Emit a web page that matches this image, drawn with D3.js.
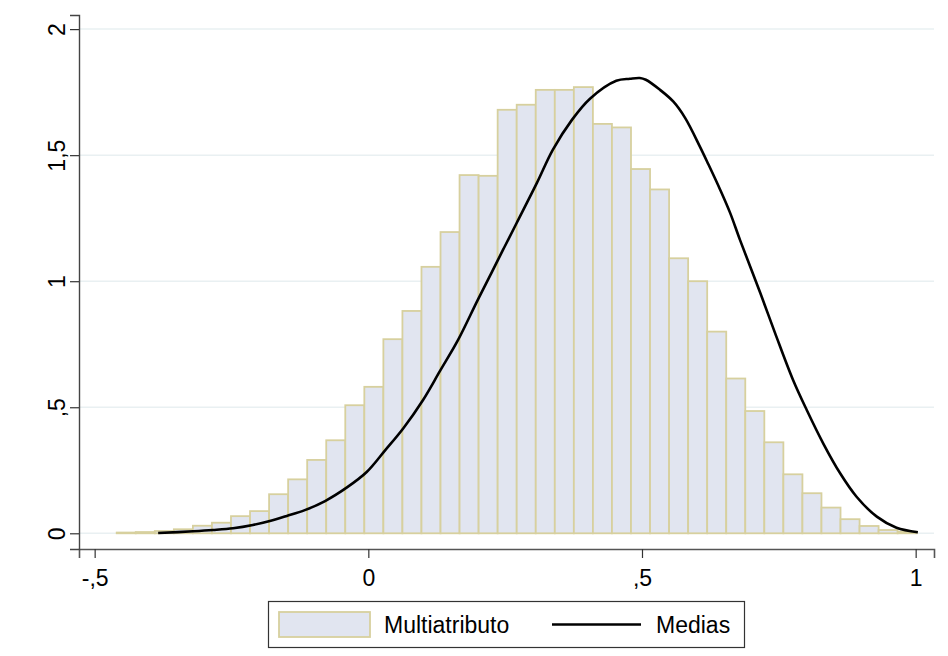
<!DOCTYPE html>
<html>
<head>
<meta charset="utf-8">
<script src="https://cdn.jsdelivr.net/npm/d3@7"></script>
<style>
    body { margin: 0; background: #fff; }
    text { font-family: "Liberation Sans", Arial, sans-serif; }
</style>
</head>
<body>
<script>
// histogram: 42 bins, lower edge of first bin and bin width
var binStart = -0.4597,
    binWidth = 0.0348;

// density of "Multiatributo" in each bin
var densities = [
    0.003, 0.005, 0.009, 0.016, 0.030, 0.042, 0.068, 0.088, 0.155, 0.214,
    0.291, 0.369, 0.508, 0.581, 0.770, 0.882, 1.057, 1.195, 1.421, 1.418,
    1.680, 1.700, 1.759, 1.759, 1.770, 1.624, 1.610, 1.445, 1.364, 1.091,
    1.000, 0.800, 0.614, 0.485, 0.361, 0.234, 0.159, 0.102, 0.056, 0.029,
    0.013, 0.006
];

// "Medias" density curve
var curveX = [-0.384, -0.320, -0.284, -0.247, -0.211, -0.180, -0.149, -0.116, -0.079, -0.039,
              -0.003, 0.031, 0.064, 0.100, 0.131, 0.164, 0.200, 0.225, 0.246,
              0.271, 0.308, 0.337, 0.372, 0.405, 0.453, 0.478, 0.496, 0.507, 0.533,
              0.557, 0.579, 0.606, 0.621, 0.643, 0.661, 0.679, 0.716, 0.743, 0.776,
              0.801, 0.831, 0.862, 0.892, 0.929, 0.965, 1.004];
var curveY = [0.001, 0.008, 0.013, 0.020, 0.033, 0.049, 0.069, 0.092, 0.128, 0.182,
              0.243, 0.330, 0.417, 0.529, 0.644, 0.767, 0.926, 1.033, 1.124,
              1.231, 1.390, 1.521, 1.640, 1.724, 1.795, 1.803, 1.806, 1.799, 1.759,
              1.713, 1.647, 1.533, 1.465, 1.362, 1.271, 1.164, 0.954, 0.795, 0.608,
              0.489, 0.357, 0.238, 0.145, 0.066, 0.022, 0.004];

var xTicks = [-0.5, 0, 0.5, 1],
    yTicks = [0, 0.5, 1, 1.5, 2];

var seriesNames = ["Multiatributo", "Medias"];

var barFill = "#e1e5f0",
    barStroke = "#d7d09e";

function init() {
    var width = 948, height = 656;
    var plot = {left: 79, right: 934, top: 15, bottom: 549};

    var svg = d3.select("body").append("svg")
        .attr("width", width)
        .attr("height", height);

    var x = d3.scaleLinear()
        .domain([-0.5286, 1.0335])
        .range([plot.left, plot.right]);

    var y = d3.scaleLinear()
        .domain([-0.0623, 2.056])
        .range([plot.bottom, plot.top]);

    // stata style labels: comma decimal, no leading zero
    var fmt = function(d) {
        return String(d).replace("0.", ".").replace(".", ",");
    };

    // grid
    svg.append("g")
        .selectAll("line")
        .data(yTicks)
        .enter().append("line")
        .attr("x1", plot.left + 1)
        .attr("x2", plot.right)
        .attr("y1", function(d) { return y(d); })
        .attr("y2", function(d) { return y(d); })
        .style("stroke", "#e9f0f2")
        .style("stroke-width", 1.5);

    // bars
    svg.append("g")
        .selectAll("rect")
        .data(densities)
        .enter().append("rect")
        .attr("x", function(d, i) { return x(binStart + i * binWidth); })
        .attr("width", function(d, i) { return x(binStart + (i + 1) * binWidth) - x(binStart + i * binWidth); })
        .attr("y", function(d) { return y(d); })
        .attr("height", function(d) { return y(0) - y(d); })
        .style("fill", barFill)
        .style("stroke", barStroke)
        .style("stroke-width", 1.8);

    // curve
    var line = d3.line()
        .x(function(d, i) { return x(curveX[i]); })
        .y(function(d) { return y(d); })
        .curve(d3.curveCatmullRom.alpha(0.5));

    svg.append("path")
        .datum(curveY)
        .attr("d", line)
        .style("fill", "none")
        .style("stroke", "#000")
        .style("stroke-width", 2.6);

    // axes
    var xAxis = d3.axisBottom(x)
        .tickValues(xTicks)
        .tickSizeOuter(0)
        .tickSize(9)
        .tickFormat(fmt);

    var gx = svg.append("g")
        .attr("transform", "translate(0," + plot.bottom + ")")
        .call(xAxis);
    gx.select(".domain").style("stroke", "#555").style("stroke-width", 1.6);
    gx.selectAll(".tick line").style("stroke", "#333").style("stroke-width", 1.2);
    gx.selectAll(".tick text")
        .attr("y", 37)
        .attr("dy", 0)
        .style("font-size", "23px")
        .style("fill", "#000");

    var yAxis = d3.axisLeft(y)
        .tickValues(yTicks)
        .tickSizeOuter(0)
        .tickSize(9)
        .tickFormat(fmt);

    var gy = svg.append("g")
        .attr("transform", "translate(" + plot.left + ",0)")
        .call(yAxis);
    gy.select(".domain").style("stroke", "#444").style("stroke-width", 1.4);
    gy.selectAll(".tick line").style("stroke", "#333").style("stroke-width", 1.2);
    gy.selectAll(".tick text")
        .attr("x", 0)
        .attr("dy", 0)
        .attr("transform", "translate(-14,0) rotate(-90)")
        .style("text-anchor", "middle")
        .style("font-size", "23px")
        .style("fill", "#000");

    // legend
    var legend = svg.append("g");

    legend.append("rect")
        .attr("x", 268.5).attr("y", 601.5)
        .attr("width", 476).attr("height", 46)
        .style("fill", "#fff")
        .style("stroke", "#333")
        .style("stroke-width", 1.2);

    legend.append("rect")
        .attr("x", 279).attr("y", 612)
        .attr("width", 91).attr("height", 25)
        .style("fill", barFill)
        .style("stroke", barStroke)
        .style("stroke-width", 1.8);

    legend.append("text")
        .attr("x", 384).attr("y", 633)
        .style("font-size", "23px")
        .text(seriesNames[0]);

    legend.append("line")
        .attr("x1", 552).attr("x2", 641)
        .attr("y1", 624.5).attr("y2", 624.5)
        .style("stroke", "#000")
        .style("stroke-width", 2.6);

    legend.append("text")
        .attr("x", 656).attr("y", 633)
        .style("font-size", "23px")
        .text(seriesNames[1]);
}

init();
</script>
</body>
</html>
